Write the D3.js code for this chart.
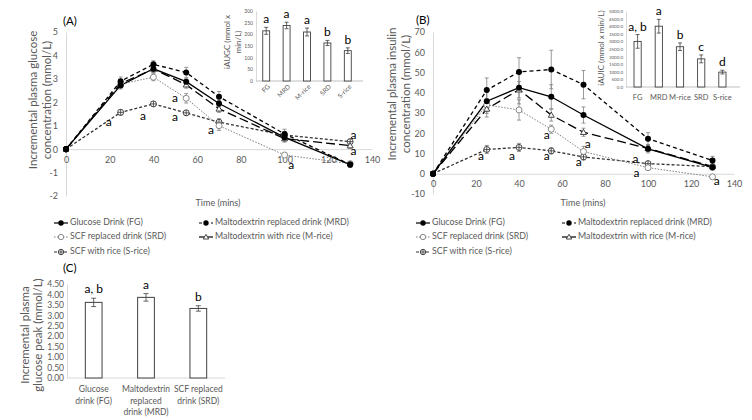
<!DOCTYPE html>
<html><head><meta charset="utf-8">
<script src="https://cdn.jsdelivr.net/npm/d3@7"></script>
<style>
body{margin:0;background:#fff;}
text{font-family:Lato,"Liberation Sans",sans-serif;}
</style></head>
<body><svg id="c" width="752" height="420"></svg>
<script>
// ---------- DATA ----------
const times = [0,25,40,55,70,100,130];
const seriesNames = ["Glucose Drink (FG)","Maltodextrin replaced drink (MRD)","SCF replaced drink (SRD)","Maltodextrin with rice (M-rice)","SCF with rice (S-rice)"];
// Panel A: glucose (mmol/L)
const gFG    = [0,2.72,3.43,2.88,1.95,0.50,-0.66];
const gMRD   = [0,2.90,3.62,3.27,2.24,0.65,-0.66];
const gSRD   = [0,2.78,3.07,2.17,1.00,-0.25,-0.62];
const gMrice = [0,2.80,3.42,2.75,1.72,0.45,0.15];
const gSrice = [0,1.57,1.93,1.55,1.15,0.60,0.32];
const gFGe    = [0,0.15,0.15,0.12,0.13,0.15,0.12];
const gMRDe   = [0,0.18,0.15,0.22,0.22,0.20,0.12];
const gSRDe   = [0,0.15,0.15,0.20,0.20,0.08,0.10];
const gMricee = [0,0.15,0.15,0.15,0.15,0.15,0.12];
const gSricee = [0,0.12,0.10,0.10,0.15,0.15,0.10];
// Panel B: insulin
const iFG    = [0,35.8,42.5,38.0,29.0,12.3,3.2];
const iMRD   = [0,41.3,50.3,51.5,44.0,17.3,6.6];
const iSRD   = [0,34.0,31.5,22.0,11.0,3.0,-1.5];
const iMrice = [0,32.0,41.5,29.0,20.5,12.5,3.6];
const iSrice = [0,12.0,13.0,11.3,8.3,5.0,3.5];
const iFGe    = [0,6,8,6,4,2,1.5];
const iMRDe   = [0,6,7,9.5,7,3,2];
const iSRDe   = [0,3,5,2,2.5,1,1];
const iMricee = [0,4,4,3,2,1.5,1];
const iSricee = [0,2,2,1.5,1.5,1,1];
// letters on line charts [time, value]
const annA = [[19.6,1.1],[35.2,1.37],[49.9,1.33],[49.9,2.13],[66.3,0.77],[103,-0.72],[131.5,0.55],[131.5,-0.12]];
const annB = [[22.3,8.4],[36.7,8.4],[52.9,8.4],[52.9,18.7],[67.8,5.4],[72,14],[94.2,6.9],[94.7,0],[132,-4]];
// Insets
const insetCats = ["FG","MRD","M-rice","SRD","S-rice"];
const iaugc = [215,238,210,163,130];
const iaugcErr = [15,14,17,11,12];
const iaugcLet = ["a","a","a","b","b"];
const iauic = [3000,4000,2650,1850,980];
const iauicErr = [450,450,250,260,120];
const iauicLet = ["a, b","a","b","c","d"];
// Panel C
const cCats = [["Glucose","drink (FG)"],["Maltodextrin","replaced","drink (MRD)"],["SCF replaced","drink (SRD)"]];
const cVals = [3.62,3.86,3.33];
const cErr = [0.20,0.18,0.13];
const cLet = ["a, b","a","b"];
const xTicks = [0,20,40,60,80,100,120,140];
const gTicks = [-2,-1,0,1,2,3,4,5];
const iTicks = [-10,0,10,20,30,40,50,60,70];

// ---------- STYLE ----------
const AX="#d9d9d9", TX="#595959";
const styles = [
  {dash:null, stroke:"#000", marker:"fill", lc:"#000"},
  {dash:"4,3", stroke:"#000", marker:"fill", lc:"#000"},
  {dash:"1.5,1.5", stroke:"#7f7f7f", marker:"open", lc:"#7f7f7f"},
  {dash:"9,4", stroke:"#000", marker:"tri", lc:"#000"},
  {dash:"3,2", stroke:"#333", marker:"cross", lc:"#333"}
];
const svg = d3.select("#c");
const plain = d => String(d).replace("\u2212","-");

function styleAxis(g, fs){
  g.select(".domain").attr("stroke",AX).attr("stroke-width",1);
  g.selectAll(".tick line").remove();
  g.selectAll("text").attr("fill",TX).attr("font-size",fs);
}
function drawMarker(g, m, cx, cy, col, r){
  r = r||3;
  if(m==="fill") g.append("circle").attr("cx",cx).attr("cy",cy).attr("r",r).attr("fill","#000");
  else if(m==="open") g.append("circle").attr("cx",cx).attr("cy",cy).attr("r",r).attr("fill","#fff").attr("stroke",col).attr("stroke-width",0.9);
  else if(m==="tri") g.append("path").attr("d",`M${cx},${cy-r}L${cx+r},${cy+r*0.75}L${cx-r},${cy+r*0.75}Z`).attr("fill","#fff").attr("stroke","#333").attr("stroke-width",0.9);
  else { g.append("circle").attr("cx",cx).attr("cy",cy).attr("r",r).attr("fill","#fff").attr("stroke",col).attr("stroke-width",0.9);
         g.append("path").attr("d",`M${cx-r},${cy}H${cx+r}M${cx},${cy-r}V${cy+r}`).attr("stroke",col).attr("stroke-width",0.8); }
}

function linePanel(opts){
  const {x0,x1,yTop,yBot,domY,ticks,series,errs,ann,label,lblPos,title,titleX,titleY,timeX,timeY} = opts;
  const x = d3.scaleLinear().domain([0,140]).range([x0,x1]);
  const y = d3.scaleLinear().domain(domY).range([yBot,yTop]);
  const ga = svg.append("g").attr("transform",`translate(${x0},0)`).call(d3.axisLeft(y).tickValues(ticks).tickFormat(plain).tickSize(0).tickPadding(8).tickSizeOuter(0));
  styleAxis(ga,"9px");
  const gb = svg.append("g").attr("transform",`translate(0,${y(0)})`).call(d3.axisBottom(x).tickValues(xTicks).tickFormat(plain).tickSize(0).tickPadding(7).tickSizeOuter(0));
  styleAxis(gb,"9px");
  const line = d3.line().x((d,i)=>x(times[i])).y(d=>y(d));
  series.forEach((s,k)=>{
    const g = svg.append("g");
    s.forEach((v,i)=>{ const e=errs[k][i]; if(!e) return;
      const cx=x(times[i]);
      g.append("path").attr("d",`M${cx},${y(v+e)}V${y(v-e)}M${cx-2},${y(v+e)}H${cx+2}M${cx-2},${y(v-e)}H${cx+2}`)
       .attr("stroke","#808080").attr("stroke-width",0.8).attr("fill","none");
    });
  });
  [4,2,3,1,0].forEach(k=>{
    const st=styles[k];
    svg.append("path").datum(series[k]).attr("d",line).attr("fill","none").attr("stroke",st.stroke)
      .attr("stroke-width",k===2?1:1.3).attr("stroke-dasharray",st.dash);
  });
  [4,2,3,1,0].forEach(k=>{
    const g=svg.append("g");
    series[k].forEach((v,i)=>drawMarker(g, i===0?"fill":styles[k].marker, x(times[i]), y(v), styles[k].lc, 3));
  });
  ann.forEach(a=>svg.append("text").attr("x",x(a[0])).attr("y",y(a[1])).attr("text-anchor","middle").attr("dominant-baseline","middle")
    .attr("font-size","12px").attr("fill","#000").text("a"));
  svg.append("text").attr("x",lblPos[0]).attr("y",lblPos[1]).attr("font-size","11.5px").attr("fill","#000").text(label);
  svg.append("text").attr("x",timeX).attr("y",timeY).attr("text-anchor","middle")
    .attr("font-size","9px").attr("fill",TX).text("Time (mins)");
  const t = svg.append("text").attr("transform",`translate(${titleX},${titleY}) rotate(-90)`).attr("text-anchor","middle")
    .attr("font-size","11.5px").attr("fill",TX);
  title.forEach((ln,i)=>t.append("tspan").attr("x",0).attr("dy",i===0?0:14).text(ln));
  return {x,y};
}

linePanel({x0:66,x1:372,yTop:32,yBot:196,domY:[-2,5],ticks:gTicks,
  series:[gFG,gMRD,gSRD,gMrice,gSrice],errs:[gFGe,gMRDe,gSRDe,gMricee,gSricee],ann:annA,
  label:"(A)",lblPos:[63,25],title:["Incremental plasma glucose","concentration (mmol/L)"],titleX:37,titleY:100,timeX:218,timeY:206});
linePanel({x0:433,x1:734,yTop:32,yBot:194,domY:[-10,70],ticks:iTicks,
  series:[iFG,iMRD,iSRD,iMrice,iSrice],errs:[iFGe,iMRDe,iSRDe,iMricee,iSricee],ann:annB,
  label:"(B)",lblPos:[416,24],title:["Incremental plasma insulin","concentration (mmol/L)"],titleX:396,titleY:94,timeX:583,timeY:206});

// ---------- Legends ----------
function legend(xl, xr, ys){
  const pos=[[xl,ys[0]],[xr,ys[0]],[xl,ys[1]],[xr,ys[1]],[xl,ys[2]]];
  seriesNames.forEach((n,k)=>{
    const [lx,ly]=pos[k]; const st=styles[k];
    svg.append("line").attr("x1",lx).attr("x2",lx+14).attr("y1",ly).attr("y2",ly).attr("stroke",st.stroke)
      .attr("stroke-width",1.2).attr("stroke-dasharray",k===3?null:(k===1?"3,3":st.dash));
    drawMarker(svg, st.marker, lx+7, ly, st.lc, 2.7);
    svg.append("text").attr("x",lx+16).attr("y",ly).attr("dominant-baseline","middle").attr("font-size","8.8px").attr("fill",TX).text(n);
  });
}
legend(54,199,[223,237,252]);
legend(416,562,[223,237,252]);

// ---------- Inset bar charts ----------
function inset(o){
  const xb = d3.scaleBand().domain(insetCats).range([o.bx0,o.bx1]).paddingInner(0.66).paddingOuter(0.33);
  const y = d3.scaleLinear().domain([0,o.max]).range([o.y0,o.y1]);
  const ga = svg.append("g").attr("transform",`translate(${o.ax},0)`).call(d3.axisLeft(y).tickValues(d3.range(0,o.max+1,o.step)).tickFormat(o.fmt).tickSize(0).tickPadding(3).tickSizeOuter(0));
  styleAxis(ga,o.tfs);
  svg.append("line").attr("x1",o.ax).attr("x2",o.axEnd).attr("y1",o.y0).attr("y2",o.y0).attr("stroke","#bfbfbf");
  insetCats.forEach((c,i)=>{
    const bx=xb(c), w=xb.bandwidth(), cx=bx+w/2, v=o.vals[i], e=o.err[i];
    svg.append("rect").attr("x",bx).attr("y",y(v)).attr("width",w).attr("height",o.y0-y(v)).attr("fill","#fff").attr("stroke","#404040").attr("stroke-width",0.9);
    svg.append("path").attr("d",`M${cx},${y(v+e)}V${y(v-e)}M${cx-2},${y(v+e)}H${cx+2}M${cx-2},${y(v-e)}H${cx+2}`).attr("stroke","#404040").attr("stroke-width",0.8);
    svg.append("text").attr("x",cx).attr("y",y(v+e)-4).attr("text-anchor","middle").attr("font-size","12px").attr("fill","#000").text(o.lets[i]);
    if(o.rot){
      svg.append("text").attr("transform",`translate(${cx+3},${o.y0+5}) rotate(-45)`).attr("text-anchor","end").attr("dominant-baseline","middle")
        .attr("font-size","6.5px").attr("fill",TX).text(c);
    } else {
      svg.append("text").attr("x",cx).attr("y",o.y0+13).attr("text-anchor","middle").attr("font-size","7.5px").attr("fill",TX).text(c);
    }
  });
  const t = svg.append("text").attr("transform",`translate(${o.tx},${o.ty}) rotate(-90)`).attr("text-anchor","middle").attr("font-size","8px").attr("fill",TX);
  o.title.forEach((ln,i)=>t.append("tspan").attr("x",0).attr("dy",i===0?0:11).text(ln));
}
inset({bx0:256,bx1:358,ax:256,axEnd:363,y0:81,y1:11,max:300,step:50,fmt:d3.format("d"),tfs:"5px",
  vals:iaugc,err:iaugcErr,lets:iaugcLet,rot:true,title:["iAUGC (mmol x","min/L)"],tx:230,ty:42});
inset({bx0:627,bx1:733,ax:626,axEnd:740,y0:87,y1:11,max:5000,step:500,fmt:d3.format(".1f"),tfs:"4.5px",
  vals:iauic,err:iauicErr,lets:iauicLet,rot:false,title:["iAUIC (mmol x min/L)"],tx:604,ty:48});

// ---------- Panel C ----------
(function(){
  const x = d3.scaleBand().domain(cCats.map(c=>c.join(" "))).range([67,225]).paddingInner(0.68).paddingOuter(0.35);
  const y = d3.scaleLinear().domain([0,4.5]).range([378,284]);
  const ga = svg.append("g").attr("transform","translate(67,0)").call(d3.axisLeft(y).tickValues(d3.range(0,4.51,0.5)).tickFormat(d3.format(".2f")).tickSize(0).tickPadding(3).tickSizeOuter(0));
  styleAxis(ga,"8.5px");
  svg.append("line").attr("x1",67).attr("x2",225).attr("y1",378).attr("y2",378).attr("stroke",AX);
  cCats.forEach((c,i)=>{
    const k=c.join(" "), bx=x(k), w=x.bandwidth(), cx=bx+w/2, v=cVals[i], e=cErr[i];
    svg.append("rect").attr("x",bx).attr("y",y(v)).attr("width",w).attr("height",378-y(v)).attr("fill","#fff").attr("stroke","#404040").attr("stroke-width",1);
    svg.append("path").attr("d",`M${cx},${y(v+e)}V${y(v-e)}M${cx-2.5},${y(v+e)}H${cx+2.5}M${cx-2.5},${y(v-e)}H${cx+2.5}`).attr("stroke","#404040").attr("stroke-width",0.8);
    svg.append("text").attr("x",cx).attr("y",y(v+e)-5).attr("text-anchor","middle").attr("font-size","12px").attr("fill","#000").text(cLet[i]);
    const t=svg.append("text").attr("x",cx).attr("y",392).attr("text-anchor","middle").attr("font-size","8.5px").attr("fill",TX);
    c.forEach((ln,j)=>t.append("tspan").attr("x",cx).attr("dy",j===0?0:11.5).text(ln));
  });
  svg.append("text").attr("x",63).attr("y",272).attr("font-size","11.5px").attr("fill","#000").text("(C)");
  const t = svg.append("text").attr("transform","translate(29,335) rotate(-90)").attr("text-anchor","middle").attr("font-size","11.5px").attr("fill",TX);
  ["Incremental plasma","glucose peak (mmol/L)"].forEach((ln,i)=>t.append("tspan").attr("x",0).attr("dy",i===0?0:13).text(ln));
})();
</script></body></html>
